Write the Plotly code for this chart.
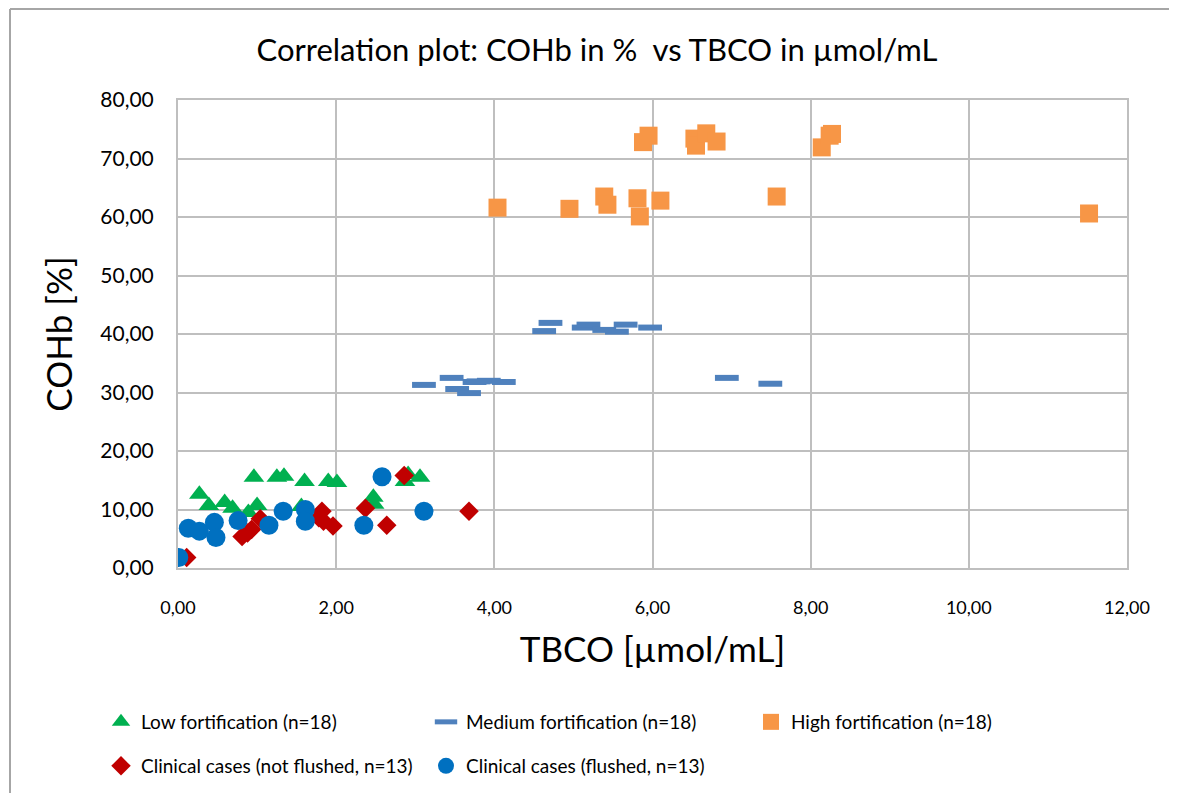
import plotly.graph_objects as go

# ---- data ----
low_x = [0.27, 0.39, 0.59, 0.69, 0.89, 0.96, 1.00, 1.25, 1.34, 1.60, 1.56, 1.90, 2.01, 2.47, 2.48, 2.91, 2.87, 3.06]
low_y = [12.6, 10.7, 11.2, 10.2, 9.5, 15.5, 10.7, 15.5, 15.7, 14.8, 10.5, 14.8, 14.6, 12.1, 10.9, 16.0, 14.8, 15.5]

med_x = [3.11, 3.46, 3.53, 3.68, 3.75, 3.93, 4.12, 4.63, 4.71, 5.13, 5.19, 5.39, 5.55, 5.66, 5.97, 6.94, 7.49, 3.80]
med_y = [31.3, 32.5, 30.6, 29.9, 31.8, 32.0, 31.8, 40.5, 41.9, 41.1, 41.6, 40.7, 40.4, 41.6, 41.1, 32.5, 31.5, 31.9]

high_x = [4.04, 4.95, 5.39, 5.43, 5.81, 5.84, 6.10, 5.88, 5.95, 6.53, 6.55, 6.68, 6.81, 8.14, 8.24, 8.27, 7.57, 11.52]
high_y = [61.6, 61.4, 63.5, 62.1, 63.2, 60.1, 62.8, 72.8, 73.9, 73.4, 72.2, 74.3, 72.9, 71.9, 73.9, 74.2, 63.5, 60.6]

nf_x = [0.11, 0.81, 0.88, 0.93, 1.04, 1.82, 1.84, 1.96, 2.37, 2.64, 2.86, 3.68, 1.78]
nf_y = [1.8, 5.4, 6.0, 6.6, 8.4, 9.7, 8.0, 7.2, 10.2, 7.3, 15.8, 9.7, 8.6]

fl_x = [0.01, 0.13, 0.27, 0.46, 0.48, 0.76, 1.15, 1.33, 1.61, 1.61, 2.35, 2.58, 3.11]
fl_y = [1.8, 6.8, 6.3, 7.8, 5.2, 8.1, 7.3, 9.7, 10.0, 8.0, 7.3, 15.6, 9.7]

FONT = "Lato"
GRID = "#BFBFBF"
BLACK = "#000000"

fig = go.Figure()
fig.add_trace(go.Scatter(x=low_x, y=low_y, mode="markers", name="Low fortification (n=18)",
                         marker=dict(symbol="triangle-up", size=18, color="#00B050"), legend="legend"))
fig.add_trace(go.Scatter(x=med_x, y=med_y, mode="markers", name="Medium fortification (n=18)",
                         marker=dict(symbol="line-ew", size=17, color="#4F81BD",
                                     line=dict(color="#4F81BD", width=6)), legend="legend"))
fig.add_trace(go.Scatter(x=high_x, y=high_y, mode="markers", name="High fortification (n=18)",
                         marker=dict(symbol="square", size=18, color="#F79646"), legend="legend"))
fig.add_trace(go.Scatter(x=nf_x, y=nf_y, mode="markers", name="Clinical cases (not flushed, n=13)",
                         marker=dict(symbol="diamond", size=15, color="#C00000"), legend="legend2"))
fig.add_trace(go.Scatter(x=fl_x, y=fl_y, mode="markers", name="Clinical cases (flushed, n=13)",
                         marker=dict(symbol="circle", size=19, color="#0070C0"), legend="legend2"))

W, H = 1177, 793
OFF = 8  # page offset of the figure in the screenshot
L, R, T, B = 178 - OFF, 1127 - OFF, 100 - OFF, 568 - OFF
pw, ph = R - L, B - T
def px(rx):
    return (rx - OFF - L) / pw
def py(ry):
    return (B - (ry - OFF)) / ph

legend_font = dict(size=19, family=FONT, color=BLACK)

fig.update_layout(
    width=W, height=H,
    margin=dict(l=L, r=W - R, t=T, b=H - B),
    paper_bgcolor="white", plot_bgcolor="white",
    separators=",.",
    font=dict(family=FONT, color=BLACK),
    title=dict(text="Correlation plot: COHb in %  vs TBCO in µmol/mL",
               x=(597 - OFF) / W, xanchor="center", xref="container",
               y=1 - (50 - OFF) / H, yanchor="middle", yref="container",
               font=dict(size=31, family=FONT, color=BLACK)),
    xaxis=dict(range=[0, 12], dtick=2, tick0=0, tickformat=".2f",
               showgrid=True, gridcolor=GRID, gridwidth=2,
               showline=True, linecolor=GRID, linewidth=2, mirror=True,
               zeroline=False, ticks="", ticklabelstandoff=22,
               tickfont=dict(size=18, family=FONT, color=BLACK),
               title=dict(text="TBCO [µmol/mL]", standoff=21,
                          font=dict(size=35, family=FONT, color=BLACK))),
    yaxis=dict(range=[0, 80], dtick=10, tick0=0, tickformat=".2f",
               showgrid=True, gridcolor=GRID, gridwidth=2,
               showline=True, linecolor=GRID, linewidth=2, mirror=True,
               zeroline=False, ticks="", ticklabelstandoff=18,
               tickfont=dict(size=21, family=FONT, color=BLACK),
               title=dict(text="COHb [%]", standoff=17,
                          font=dict(size=35, family=FONT, color=BLACK))),
    legend=dict(orientation="h", x=px(101), xanchor="left", y=py(722), yanchor="middle",
                entrywidth=280, entrywidthmode="pixels",
                font=legend_font, bgcolor="rgba(0,0,0,0)"),
    legend2=dict(orientation="h", x=px(101), xanchor="left", y=py(766), yanchor="middle",
                 entrywidth=280, entrywidthmode="pixels",
                 font=legend_font, bgcolor="rgba(0,0,0,0)"),
    shapes=[
        dict(type="line", xref="paper", yref="paper", x0=px(10), x1=px(W + OFF), y0=py(9), y1=py(9),
             line=dict(color="#A6A6A6", width=2)),
        dict(type="line", xref="paper", yref="paper", x0=px(10), x1=px(10), y0=py(9), y1=py(H + OFF),
             line=dict(color="#A6A6A6", width=2)),
    ],
    showlegend=True,
)

fig.write_html("out.html")
